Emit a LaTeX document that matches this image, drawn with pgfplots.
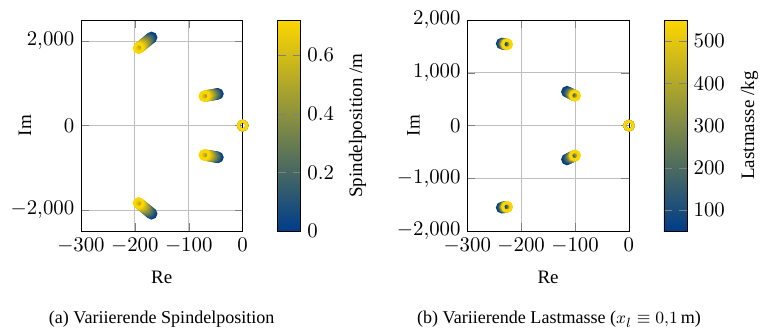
\documentclass[border=0pt]{standalone}
\usepackage{pgfplots}
\usepackage{pgfplotstable}
\pgfplotsset{compat=1.18}
\usepackage{fontspec}
\setmainfont{Liberation Serif}

\pgfplotstableread{
x y c
-169 2088 0
-171 2067 0.06
-173 2046 0.12
-175 2025 0.18
-177 2004 0.24
-179 1983 0.30
-181 1962 0.36
-183 1941 0.42
-185 1920 0.48
-187 1899 0.54
-189 1878 0.60
-191 1857 0.66
-193 1836 0.72
-169 -2088 0
-171 -2067 0.06
-173 -2046 0.12
-175 -2025 0.18
-177 -2004 0.24
-179 -1983 0.30
-181 -1962 0.36
-183 -1941 0.42
-185 -1920 0.48
-187 -1899 0.54
-189 -1878 0.60
-191 -1857 0.66
-193 -1836 0.72
-46.0 752.0 0
-48.1 747.4 0.06
-50.2 742.8 0.12
-52.3 738.3 0.18
-54.3 733.7 0.24
-56.4 729.1 0.30
-58.5 724.5 0.36
-60.6 719.9 0.42
-62.7 715.3 0.48
-64.8 710.8 0.54
-66.8 706.2 0.60
-68.9 701.6 0.66
-71.0 697.0 0.72
-46.0 -752.0 0
-48.1 -747.4 0.06
-50.2 -742.8 0.12
-52.3 -738.3 0.18
-54.3 -733.7 0.24
-56.4 -729.1 0.30
-58.5 -724.5 0.36
-60.6 -719.9 0.42
-62.7 -715.3 0.48
-64.8 -710.8 0.54
-66.8 -706.2 0.60
-68.9 -701.6 0.66
-71.0 -697.0 0.72
0 0 0
0 0 0.12
0 0 0.24
0 0 0.36
0 0 0.48
0 0 0.60
0 0 0.72
}\spindel

\pgfplotstableread{
x y c
-236.0 1555.0 50
-233.9 1552.1 100
-232.3 1549.9 150
-231.0 1548.1 200
-230.0 1546.6 250
-229.1 1545.3 300
-228.3 1544.2 350
-227.6 1543.3 400
-227.0 1542.4 450
-226.5 1541.7 500
-226.0 1541.0 550
-236.0 -1555.0 50
-233.9 -1552.1 100
-232.3 -1549.9 150
-231.0 -1548.1 200
-230.0 -1546.6 250
-229.1 -1545.3 300
-228.3 -1544.2 350
-227.6 -1543.3 400
-227.0 -1542.4 450
-226.5 -1541.7 500
-226.0 -1541.0 550
-115.0 641.0 50
-111.9 625.6 100
-109.5 613.6 150
-107.6 603.8 200
-106.0 595.9 250
-104.6 589.0 300
-103.4 583.2 350
-102.4 578.1 400
-101.5 573.6 450
-100.7 569.6 500
-100.0 566.0 550
-115.0 -641.0 50
-111.9 -625.6 100
-109.5 -613.6 150
-107.6 -603.8 200
-106.0 -595.9 250
-104.6 -589.0 300
-103.4 -583.2 350
-102.4 -578.1 400
-101.5 -573.6 450
-100.7 -569.6 500
-100.0 -566.0 550
0 0 50
0 0 150
0 0 250
0 0 350
0 0 450
0 0 550
}\masse

\pgfplotsset{
  colormap={tuc}{rgb255=(0,61,137) rgb255=(253,214,0)},
  pzstyle/.style={
    width=85.1pt, height=111pt, scale only axis,
    grid=major, xmin=-300, xmax=0, xtick={-300,-200,-100,0},
    tick label style={font=\fontsize{10.7}{13}\selectfont},
    xlabel={Re}, ylabel={Im}, clip=false,
    xlabel style={at={(axis description cs:0.5,0)}, anchor=center, yshift=-24.2pt},
    colorbar,
    colorbar style={width=12.1pt, at={(parent axis.north east)}, anchor=north west, xshift=9.9pt,
      tick label style={font=\fontsize{10.7}{13}\selectfont}},
  },
  pzplot/.style={scatter, only marks, mark=o, mark size=2.3pt, point meta=explicit,
    mark options={line width=1.5pt},
    scatter/use mapped color={draw=mapped color}},
}

\begin{document}
\begin{tikzpicture}
\begin{axis}[pzstyle, at={(0,0)}, anchor=south west,
  ymin=-2500, ymax=2500, ytick={-2000,0,2000},
  ylabel style={at={(axis description cs:0,0.5)}, anchor=center, yshift=29.5pt},
  point meta min=0, point meta max=0.72,
  colorbar style={ytick={0,0.2,0.4,0.6}, ylabel={Spindelposition /m},
    ylabel style={at={(axis description cs:1,0.5)}, anchor=center, yshift=-30pt}}]
\addplot[pzplot] table[x=x, y=y, meta=c]{\spindel};
\end{axis}
\begin{axis}[pzstyle, at={(203.3pt,0)}, anchor=south west,
  ymin=-2000, ymax=2000, ytick={-2000,-1000,0,1000,2000},
  ylabel style={at={(axis description cs:0,0.5)}, anchor=center, yshift=28.4pt},
  point meta min=50, point meta max=550,
  colorbar style={ytick={100,200,300,400,500}, ylabel={Lastmasse /kg},
    ylabel style={at={(axis description cs:1,0.5)}, anchor=center, yshift=-33pt}}]
\addplot[pzplot] table[x=x, y=y, meta=c]{\masse};
\end{axis}
\node[font=\fontsize{9.5}{11}\selectfont] at (42.5pt,-46.5pt) {(a) Variierende Spindelposition};
\node[font=\fontsize{9.5}{11}\selectfont] at (251.6pt,-46.5pt) {(b) Variierende Lastmasse ($x_l \equiv 0{,}1\,\mathrm{m}$)};
\pgfresetboundingbox
\useasboundingbox (-42.6pt,-51.6pt) rectangle (357.9pt,121.6pt);
\end{tikzpicture}
\end{document}
